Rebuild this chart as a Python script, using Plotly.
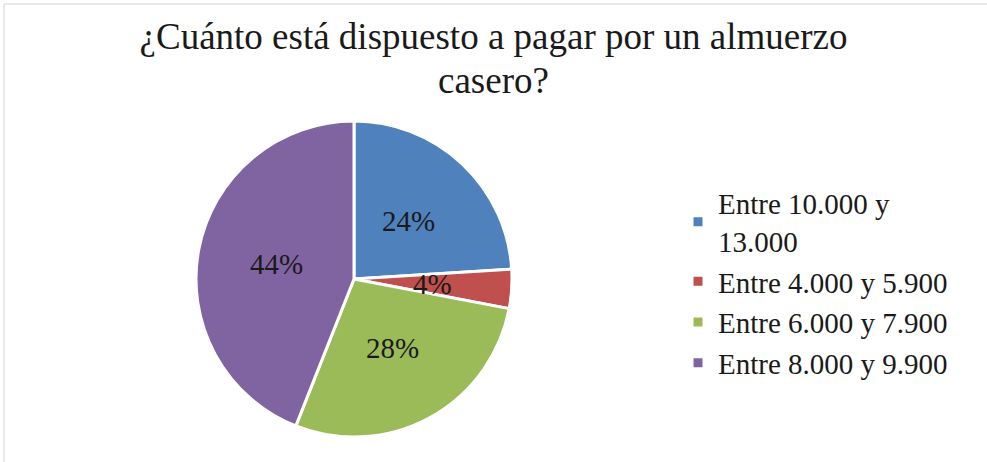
import math
import plotly.graph_objects as go

# Survey answers: price range willing to pay for a home-cooked lunch
categories = [
    "Entre 10.000 y<br>13.000",
    "Entre 4.000 y 5.900",
    "Entre 6.000 y 7.900",
    "Entre 8.000 y 9.900",
]
shares = [24, 4, 28, 44]
colors = ["#4F81BD", "#C0504D", "#9BBB59", "#8064A2"]
title_lines = ["¿Cuánto está dispuesto a pagar por un almuerzo", "casero?"]

W, H = 987, 462
font_family = "Liberation Serif, Times New Roman, serif"
ink = "#1a1a1a"

# Pie placement in pixels (left, right, top, bottom)
pie_left, pie_right, pie_top, pie_bottom = 196, 512, 120, 438
dom_x = [pie_left / W, pie_right / W]
dom_y = [1 - pie_bottom / H, 1 - pie_top / H]

fig = go.Figure(
    go.Pie(
        labels=categories,
        values=shares,
        sort=False,
        direction="clockwise",
        rotation=0,
        marker=dict(colors=colors, line=dict(color="white", width=3)),
        textinfo="none",
        domain=dict(x=dom_x, y=dom_y),
        hoverinfo="label+percent",
    )
)

# Percentage labels placed halfway out along each slice's mid-angle
cx = (pie_left + pie_right) / 2
cy = (pie_top + pie_bottom) / 2
radius = min(pie_right - pie_left, pie_bottom - pie_top) / 2
total = sum(shares)
labels = []
acc = 0
for v in shares:
    mid = (acc + v / 2) / total * 2 * math.pi  # clockwise from 12 o'clock
    acc += v
    px = cx + 0.5 * radius * math.sin(mid)
    py = cy - 0.5 * radius * math.cos(mid)
    labels.append(dict(
        text=f"{v}%", xref="paper", yref="paper", x=px / W, y=1 - py / H,
        xanchor="center", yanchor="middle", showarrow=False,
        font=dict(family=font_family, size=29, color=ink),
    ))

fig.update_layout(
    width=W,
    height=H,
    margin=dict(l=0, r=0, t=0, b=0),
    paper_bgcolor="white",
    plot_bgcolor="white",
    font=dict(family=font_family, color=ink),
    title=dict(
        text=title_lines[0],
        x=0.5,
        xanchor="center",
        y=1 - 36 / H,
        yanchor="middle",
        font=dict(family=font_family, size=37, color=ink),
    ),
    annotations=[
        dict(text=title_lines[1], xref="paper", yref="paper", x=0.5, y=1 - 80 / H,
             xanchor="center", yanchor="middle", showarrow=False,
             font=dict(family=font_family, size=37, color=ink)),
    ] + labels,
    legend=dict(
        x=678 / W,
        xanchor="left",
        y=1 - 283 / H,
        yanchor="middle",
        font=dict(family=font_family, size=29, color=ink),
        itemwidth=30,
        bgcolor="rgba(0,0,0,0)",
    ),
    shapes=[
        dict(type="line", xref="paper", yref="paper", x0=4 / W, x1=1, y0=1 - 4 / H, y1=1 - 4 / H,
             line=dict(color="#e2e2e2", width=1.5)),
        dict(type="line", xref="paper", yref="paper", x0=4 / W, x1=4 / W, y0=0, y1=1 - 4 / H,
             line=dict(color="#e2e2e2", width=1.5)),
    ],
)

fig.write_html("out.html")
